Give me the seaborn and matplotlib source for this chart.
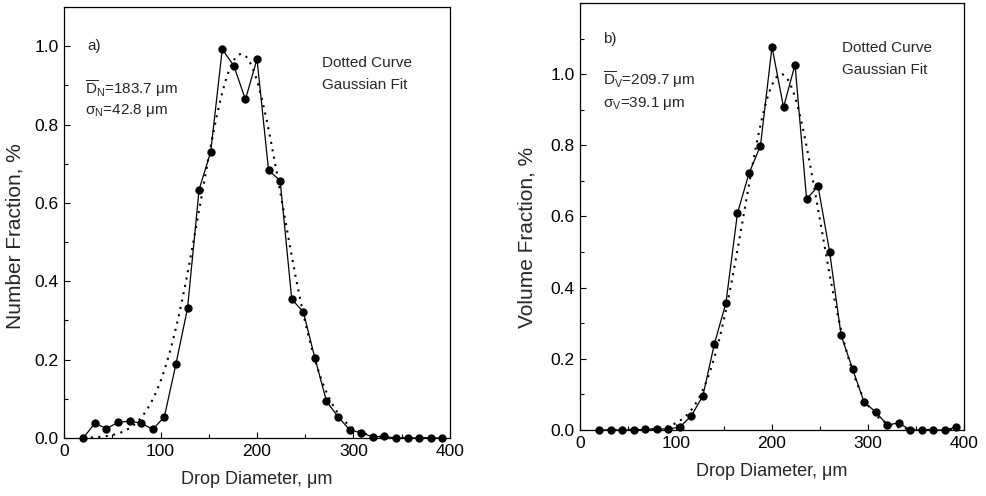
import numpy as np
import pandas as pd
import matplotlib
matplotlib.use("Agg")
import matplotlib.pyplot as plt
import seaborn as sns
from matplotlib.ticker import MultipleLocator

# ---- data ----
diameter = [20, 32, 44, 56, 68, 80, 92, 104, 116, 128, 140, 152, 164, 176, 188, 200,
            212, 224, 236, 248, 260, 272, 284, 296, 308, 320, 332, 344, 356, 368, 380, 392]
number_fraction = [0.000, 0.038, 0.024, 0.040, 0.043, 0.038, 0.022, 0.054, 0.189, 0.331,
                   0.634, 0.730, 0.992, 0.950, 0.864, 0.967, 0.683, 0.657, 0.354, 0.322,
                   0.204, 0.094, 0.054, 0.021, 0.013, 0.003, 0.004, 0.000, 0.000, 0.000,
                   0.000, 0.000]
volume_fraction = [0.000, 0.000, 0.000, 0.000, 0.002, 0.003, 0.003, 0.008, 0.040, 0.096,
                   0.242, 0.357, 0.609, 0.721, 0.799, 1.077, 0.907, 1.027, 0.649, 0.685,
                   0.501, 0.266, 0.171, 0.078, 0.051, 0.014, 0.020, 0.000, 0.000, 0.000,
                   0.000, 0.008]
# Gaussian fit parameters (from the annotations / dotted curve peak)
number_mean, number_sigma, number_peak = 183.7, 42.8, 0.98
volume_mean, volume_sigma, volume_peak = 209.7, 39.1, 1.00

sns.set_style("ticks")
plt.rcParams["font.family"] = ["Liberation Sans", "DejaVu Sans"]
plt.rcParams["mathtext.fontset"] = "custom"
plt.rcParams["mathtext.rm"] = "Liberation Sans"
plt.rcParams["mathtext.it"] = "Liberation Sans:italic"
plt.rcParams["mathtext.bf"] = "Liberation Sans:bold"

fig = plt.figure(figsize=(9.87, 4.96), dpi=100)
W, H = 987, 496
axL = fig.add_axes([64 / W, (H - 438) / H, (450 - 64) / W, (438 - 7) / H])
axR = fig.add_axes([580 / W, (H - 430) / H, (964 - 580) / W, (430 - 3) / H])

fit_x = np.linspace(20, 395, 400)


def draw(ax, y, mean, sigma, peak, ymax, ylabel, ylab_xy):
    df = pd.DataFrame({"d": diameter, "f": y})
    fit = pd.DataFrame({"d": fit_x,
                        "f": peak * np.exp(-(fit_x - mean) ** 2 / (2 * sigma ** 2))})
    sns.lineplot(data=fit, x="d", y="f", ax=ax, color="black", lw=1.5,
                 linestyle=(0, (1, 2.6)), clip_on=False)
    sns.lineplot(data=df, x="d", y="f", ax=ax, color="black", lw=0.9,
                 marker="o", markersize=6, markeredgewidth=0, clip_on=False)
    ax.set_xlim(0, 400)
    ax.set_ylim(0, ymax)
    ax.xaxis.set_major_locator(MultipleLocator(100))
    ax.xaxis.set_minor_locator(MultipleLocator(50))
    ax.yaxis.set_major_locator(MultipleLocator(0.2))
    ax.yaxis.set_minor_locator(MultipleLocator(0.1))
    ax.set_yticks(np.arange(0, 1.01, 0.2))
    ax.yaxis.set_major_formatter(matplotlib.ticker.FormatStrFormatter("%.1f"))
    ax.tick_params(which="both", direction="in", top=False, right=False,
                   labelsize=12.5, width=0.8, color="black", labelcolor="black")
    ax.tick_params(which="major", length=4.5, pad=4)
    ax.tick_params(which="minor", length=3)
    for s in ax.spines.values():
        s.set_linewidth(0.9)
        s.set_color("black")
        s.set_visible(True)
    ax.set_xlabel("Drop Diameter, μm", fontsize=13, labelpad=9)
    ax.set_ylabel(ylabel, fontsize=15)
    ax.yaxis.set_label_coords(*ylab_xy)


draw(axL, number_fraction, number_mean, number_sigma, number_peak, 1.1,
     "Number Fraction, %", (-0.103, 0.468))
draw(axR, volume_fraction, volume_mean, volume_sigma, volume_peak, 1.2,
     "Volume Fraction, %", (-0.114, 0.452))

fs = 11
axL.text(23.8, 0.990, "a)", fontsize=fs, va="baseline")
axL.text(21.8, 0.879, r"$\overline{\mathrm{D}}_{\mathrm{N}}$=183.7 μm", fontsize=fs, va="baseline")
axL.text(21.8, 0.828, r"σ$_{\mathrm{N}}$=42.8 μm", fontsize=fs, va="baseline")
axL.text(267, 0.946, "Dotted Curve", fontsize=fs, va="baseline")
axL.text(267, 0.890, "Gaussian Fit", fontsize=fs, va="baseline")

axR.text(24, 1.088, "b)", fontsize=fs, va="baseline")
axR.text(24, 0.969, r"$\overline{\mathrm{D}}_{\mathrm{V}}$=209.7 μm", fontsize=fs, va="baseline")
axR.text(24, 0.908, r"σ$_{\mathrm{V}}$=39.1 μm", fontsize=fs, va="baseline")
axR.text(273, 1.061, "Dotted Curve", fontsize=fs, va="baseline")
axR.text(273, 1.000, "Gaussian Fit", fontsize=fs, va="baseline")

fig.savefig("out.png", dpi=100, facecolor="white")
